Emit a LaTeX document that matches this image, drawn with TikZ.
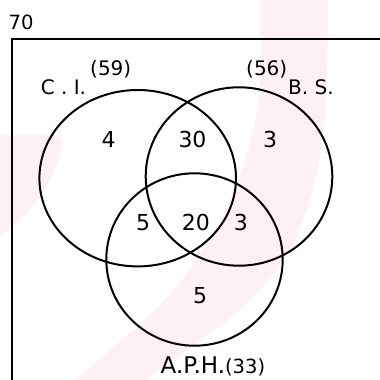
\documentclass[tikz,border=0pt]{standalone}
\usepackage{fontspec}
\setmainfont{DejaVu Sans}
\usetikzlibrary{shapes.geometric}
\definecolor{wm}{RGB}{253,241,243}
\tikzset{
  setline/.style={draw, ellipse, line width=2pt, black, inner sep=0pt},
  frameline/.style={line width=2.4pt, black},
  regnum/.style={anchor=base, inner sep=0pt, font=\fontsize{22}{24}\selectfont},
  setlabel/.style={anchor=base west, inner sep=0pt, font=\fontsize{20}{22}\selectfont},
}
\begin{document}
\begin{tikzpicture}[x=1pt,y=-1pt]
\useasboundingbox (0,0) rectangle (380,380);
% faint watermark
\fill[wm] plot[smooth] coordinates {(328,0) (326,100) (315,180) (290,250) (240,310) (145,380)}
  -- plot[smooth] coordinates {(75,380) (165,300) (215,230) (240,175) (259,100) (260,0)} -- cycle;
\fill[wm] (0,135) -- (55,135) .. controls (64,135) and (64,142) .. (61,152)
  .. controls (52,185) and (30,215) .. (0,237) -- cycle;
% universe frame
\coordinate (ftl) at (12,38.7);
\coordinate (fr) at (381,38.7);
\coordinate (fb) at (12,381);
\draw[frameline] (fr) -- (ftl) -- (fb);
\node[setlabel, font=\fontsize{19.6}{22}\selectfont] (u) at (8.4,29.3) {70};
% sets
\node[setline, minimum width=196.6pt, minimum height=176.4pt] (ci) at (137.7,178.2) {};
\node[setline, minimum width=186.6pt, minimum height=178.4pt] (bs) at (239,176.5) {};
\node[setline, minimum width=176.4pt, minimum height=172.4pt] (aph) at (194.5,259.5) {};
% labels
\node[setlabel] (cil) at (40.6,94) {C . I.};
\node[setlabel] (cin) at (90,75) {(59)};
\node[setlabel] (bsn) at (246,75.7) {(56)};
\node[setlabel] (bsl) at (288,94) {B. S.};
\node[anchor=base west, inner sep=0pt, font=\fontsize{23}{25}\selectfont] (aphl) at (160.5,373.3) {A.P.H.\fontsize{19.5}{22}\selectfont(33)};
% region numbers
\node[regnum] (r1) at (108.5,147.7) {4};
\node[regnum] (r2) at (192.5,147.7) {30};
\node[regnum] (r3) at (270,147.7) {3};
\node[regnum] (r4) at (143,230) {5};
\node[regnum] (r5) at (195.8,230) {20};
\node[regnum] (r6) at (240.8,230) {3};
\node[regnum] (r7) at (200,303.7) {5};
\end{tikzpicture}
\end{document}
